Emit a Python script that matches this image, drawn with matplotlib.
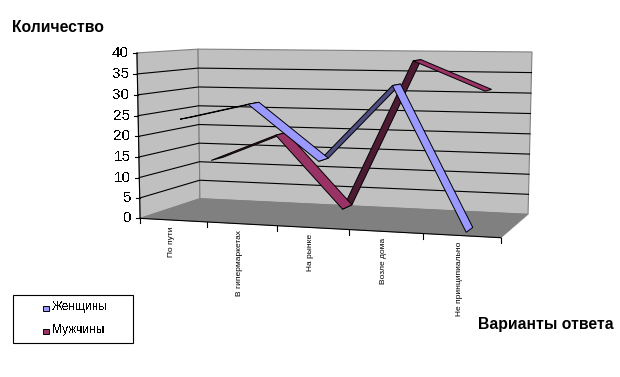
import numpy as np
import matplotlib
matplotlib.use('Agg')
import matplotlib.pyplot as plt
from matplotlib.patches import Polygon, Rectangle

categories = ['По пути', 'В гипермаркетах', 'На рынке', 'Возле дома', 'Не принципиально']
women = [24, 28, 15, 33, 0]
men = [12, 19, 1, 38, 31]
yticks = [0, 5, 10, 15, 20, 25, 30, 35, 40]

plt.rcParams['font.family'] = ['Liberation Sans', 'DejaVu Sans']
plt.rcParams['text.antialiased'] = False

# box corners of the 3d chart on the picture (u, v, d) -> pixel
corners = [
    ((0, 0, 0), (140, 218)), ((0, 1, 0), (137, 53)),
    ((0, 0, 1), (200, 199)), ((0, 1, 1), (198, 49)),
    ((1, 0, 1), (528, 214)), ((1, 1, 1), (532, 52)),
    ((1, 0, 0), (501, 238)),
]
A = []
b = []
for (u, v, d), (px, py) in corners:
    A.append([u, v, d, 1, 0, 0, 0, 0, -px*u, -px*v, -px*d])
    A.append([0, 0, 0, 0, u, v, d, 1, -py*u, -py*v, -py*d])
    b += [px, py]
P = np.linalg.lstsq(np.array(A, float), np.array(b, float), rcond=None)[0]
P = np.append(P, 1).reshape(3, 4)


def proj(cat, val, depth):
    h = P @ np.array([cat/len(categories), val/40, depth, 1])
    return h[0]/h[2], h[1]/h[2]


fig = plt.figure(figsize=(6.2, 3.77), dpi=100)
ax = fig.add_axes([0, 0, 1, 1])
ax.set_xlim(0, 620)
ax.set_ylim(377, 0)
ax.axis('off')

n = len(categories)
wall = '#C0C0C0'
edge = '#808080'
ax.add_patch(Polygon([proj(0, 0, 0), proj(0, 40, 0), proj(0, 40, 1), proj(0, 0, 1)], fc=wall, ec=edge, lw=0.8, zorder=1))
ax.add_patch(Polygon([proj(0, 0, 1), proj(0, 40, 1), proj(n, 40, 1), proj(n, 0, 1)], fc=wall, ec=edge, lw=0.8, zorder=1))
ax.add_patch(Polygon([proj(0, 0, 0), proj(n, 0, 0), proj(n, 0, 1), proj(0, 0, 1)], fc='#808080', ec='#808080', lw=0.5, zorder=1))

# grid on both walls
for t in yticks[1:-1]:
    ax.plot(*zip(proj(0, t, 0), proj(0, t, 1), proj(n, t, 1)), color='k', lw=0.8, zorder=2)

# axes
ax.plot(*zip(proj(0, 0, 0), proj(0, 40, 0)), color='k', lw=0.8, zorder=5)
ax.plot(*zip(proj(0, 0, 0), proj(n, 0, 0)), color='k', lw=0.8, zorder=5)
for t in yticks:
    x, y = proj(0, t, 0)
    ax.plot([x-4, x], [y, y], color='k', lw=0.8, zorder=5)
    ax.text(x-8, y, str(t), ha='right', va='center', fontsize=11)
for i in range(n+1):
    x, y = proj(i, 0, 0)
    ax.plot([x, x], [y, y+5], color='k', lw=0.8, zorder=5)
for i, c in enumerate(categories):
    x, y = proj(i+0.5, 0, 0)
    ax.text(x-2, y+6, c, rotation=90, ha='right', va='center', rotation_mode='anchor', fontsize=6, antialiased=True)


def ribbon(vals, d0, d1, light, dark, z):
    for i in range(len(vals)-1):
        a = proj(i+0.5, vals[i], d0)
        b = proj(i+1.5, vals[i+1], d0)
        c = proj(i+1.5, vals[i+1], d1)
        e = proj(i+0.5, vals[i], d1)
        q = np.array([a, b, c, e])
        area = 0.5*np.sum(q[:, 0]*np.roll(q[:, 1], -1) - np.roll(q[:, 0], -1)*q[:, 1])
        col = dark if vals[i+1] > vals[i] else light
        ax.add_patch(Polygon(q, fc=col, ec='k', lw=0.7, zorder=z+(0.5 if area < 0 else 0)))


ribbon(men, 0.65, 0.87, '#993366', '#4D1A33', 3)
ribbon(women, 0.13, 0.33, '#9999FF', '#4D4D80', 4)

ax.text(12, 28, 'Количество', fontsize=11.3, fontweight='bold', va='center', antialiased=True)
ax.text(478, 324, 'Варианты ответа', fontsize=11.3, fontweight='bold', va='center', antialiased=True)

# legend
ax.add_patch(Rectangle((13, 295), 120, 48, fc='w', ec='k', lw=0.8))
for y, lab, col in [(308, 'Женщины', '#9999FF'), (331, 'Мужчины', '#993366')]:
    ax.add_patch(Rectangle((43, y-2.5), 6, 5, fc=col, ec='k', lw=0.7))
    ax.text(52, y-1, lab, fontsize=8.6, va='center')

fig.savefig('out.png', dpi=100)
